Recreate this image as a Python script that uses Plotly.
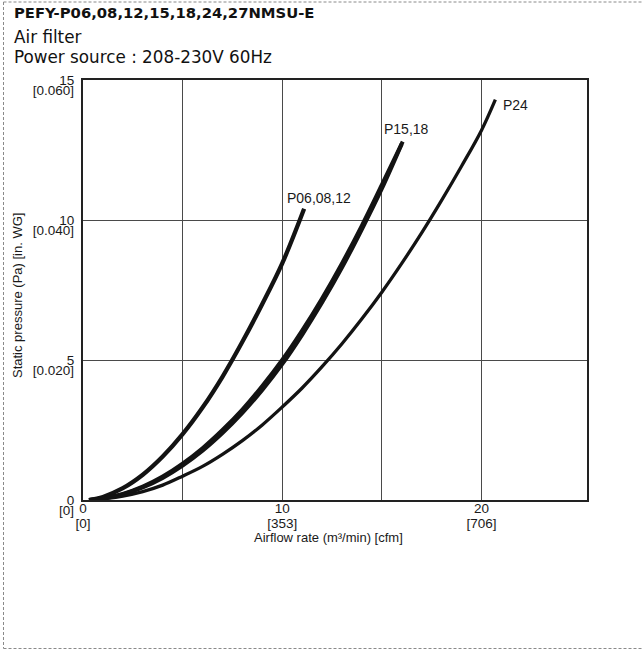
import plotly.graph_objects as go

# ---- data ----
p06_x = [0.3, 1, 2, 3, 4, 5, 6, 7, 8, 9, 10, 11.1]
p06_y = [0.0, 0.11, 0.42, 0.9, 1.55, 2.35, 3.3, 4.4, 5.65, 7.0, 8.45, 10.4]

p15_x = [0.3, 1, 2, 3, 4, 5, 6, 7, 8, 9, 10, 11, 12, 13, 14, 15, 16.05]
p15_y = [0.0, 0.06, 0.22, 0.48, 0.84, 1.3, 1.85, 2.5, 3.23, 4.07, 5.0, 6.05, 7.2, 8.45, 9.8, 11.25, 12.8]

p18_x = [0.3, 1, 2, 3, 4, 5, 6, 7, 8, 9, 10, 11, 12, 13, 14, 15, 16.0]
p18_y = [0.0, 0.05, 0.2, 0.45, 0.79, 1.23, 1.76, 2.39, 3.11, 3.93, 4.85, 5.9, 7.05, 8.3, 9.67, 11.12, 12.72]

p24_x = [0.3, 1, 2, 3, 4, 5, 6, 7, 8, 9, 10, 11, 12, 13, 14, 15, 16, 17, 18, 19, 20, 20.7]
p24_y = [0.0, 0.04, 0.14, 0.3, 0.53, 0.85, 1.2, 1.63, 2.12, 2.68, 3.32, 4.0, 4.76, 5.58, 6.47,
         7.42, 8.45, 9.54, 10.7, 11.92, 13.2, 14.3]

x_grid_vals = [0, 5, 10, 15, 20]
x_cfm_text = ["[0]", "", "[353]", "", "[706]"]
x_main_vals = [0, 10, 20]
x_main_text = ["0", "10", "20"]

y_vals = [0, 5, 10, 15]
y_tick_text = ["0", "5", "10", "15"]
y_inwg_text = ["[0]", "[0.020]", "[0.040]", "[0.060]"]

curve_labels = ["P06,08,12", "P15,18", "P24"]
label_x = [10.15, 15.0, 21.0]
label_y = [10.8, 13.25, 14.1]

X_RANGE = [0, 25.3]
Y_RANGE = [0, 15]

# ---- figure ----
L, R, T, B = 83, 56, 80, 150
W, H = 643, 650
pw, ph = W - L - R, H - T - B

def px2paper_x(px):
    return (px - L) / pw

def px2paper_y(py):
    return (H - B - py) / ph

fig = go.Figure()
line_col = "#131313"
fig.add_trace(go.Scatter(x=p06_x, y=p06_y, mode="lines", line=dict(color=line_col, width=4.3, shape="spline"),
                         showlegend=False, hoverinfo="skip"))
fig.add_trace(go.Scatter(x=p15_x, y=p15_y, mode="lines", line=dict(color=line_col, width=4, shape="spline"),
                         showlegend=False, hoverinfo="skip"))
fig.add_trace(go.Scatter(x=p18_x, y=p18_y, mode="lines", line=dict(color=line_col, width=4, shape="spline"),
                         showlegend=False, hoverinfo="skip"))
fig.add_trace(go.Scatter(x=p24_x, y=p24_y, mode="lines", line=dict(color=line_col, width=3.3, shape="spline"),
                         showlegend=False, hoverinfo="skip", xaxis="x2", yaxis="y2"))

tick_font = dict(family="Liberation Sans, Arial, sans-serif", size=13.5, color="#1a1a1a")

fig.update_layout(
    width=W, height=H,
    margin=dict(l=L, r=R, t=T, b=B, pad=0),
    paper_bgcolor="white", plot_bgcolor="white",
    # main x axis: frame, grid and the [cfm] labels
    xaxis=dict(range=X_RANGE, tickvals=x_grid_vals, ticktext=x_cfm_text, showgrid=True,
               gridcolor="#4a4a4a", gridwidth=1, zeroline=False, showline=True, linecolor="#222",
               linewidth=2, mirror=True, ticks="", tickfont=tick_font, ticklabelstandoff=10,
               fixedrange=True),
    yaxis=dict(range=Y_RANGE, tickvals=y_vals, ticktext=y_tick_text, showgrid=True,
               gridcolor="#4a4a4a", gridwidth=1, zeroline=False, showline=True, linecolor="#222",
               linewidth=2, mirror=True, ticks="", tickfont=tick_font, ticklabelstandoff=4,
               fixedrange=True),
    # overlay x axis: m3/min numbers, sitting slightly higher
    xaxis2=dict(range=X_RANGE, overlaying="x", anchor="free", position=2.0 / ph, side="bottom",
                tickvals=x_main_vals, ticktext=x_main_text, showgrid=False, zeroline=False,
                showline=False, ticks="", tickfont=tick_font, ticklabelstandoff=0, fixedrange=True),
    yaxis2=dict(range=Y_RANGE, overlaying="y", anchor="x", side="left", tickvals=y_vals,
                ticktext=y_inwg_text, showgrid=False, zeroline=False, showline=False, ticks="",
                tickfont=tick_font, ticklabelstandoff=8, ticklabelshift=10, fixedrange=True),
)

head_font = "DejaVu Sans, Verdana, sans-serif"
ann = [
    dict(text="<b>PEFY-P06,08,12,15,18,24,27NMSU-E</b>", x=px2paper_x(12), y=px2paper_y(12.5),
         font=dict(family=head_font, size=14.8, color="#111")),
    dict(text="Air filter", x=px2paper_x(12), y=px2paper_y(37),
         font=dict(family=head_font, size=16.8, color="#111")),
    dict(text="Power source : 208-230V 60Hz", x=px2paper_x(12), y=px2paper_y(57.5),
         font=dict(family=head_font, size=16.8, color="#111")),
]
for a in ann:
    a.update(xref="paper", yref="paper", xanchor="left", yanchor="middle", showarrow=False)
    fig.add_annotation(**a)

fig.add_annotation(text="Airflow rate (m³/min) [cfm]", xref="paper", yref="paper",
                   x=px2paper_x(328), y=px2paper_y(537), xanchor="center", yanchor="middle",
                   showarrow=False, font=dict(family="Liberation Sans, Arial, sans-serif", size=13, color="#1a1a1a"))
fig.add_annotation(text="Static pressure (Pa) [in. WG]", xref="paper", yref="paper",
                   x=px2paper_x(17), y=px2paper_y(296), xanchor="center", yanchor="middle",
                   textangle=-90, showarrow=False,
                   font=dict(family="Liberation Sans, Arial, sans-serif", size=13, color="#1a1a1a"))

for t, lx, ly in zip(curve_labels, label_x, label_y):
    fig.add_annotation(text=t, x=lx, y=ly, xref="x", yref="y", xanchor="left", yanchor="middle",
                       showarrow=False, font=dict(family="Liberation Sans, Arial, sans-serif", size=14, color="#1a1a1a"))

# dashed frame around the figure (left, top, bottom edges)
frame = dict(type="line", xref="paper", yref="paper", line=dict(color="#8a8a8a", width=1, dash="3px,2px"))
fig.add_shape(**frame, x0=px2paper_x(3.5), x1=px2paper_x(3.5), y0=px2paper_y(2), y1=px2paper_y(648.5))
fig.add_shape(**frame, x0=px2paper_x(3.5), x1=px2paper_x(660), y0=px2paper_y(2), y1=px2paper_y(2))
fig.add_shape(**frame, x0=px2paper_x(3.5), x1=px2paper_x(660), y0=px2paper_y(648.5), y1=px2paper_y(648.5))

fig.write_html("out.html", config={"displayModeBar": False},
               post_script="document.body.style.margin='0px';")
